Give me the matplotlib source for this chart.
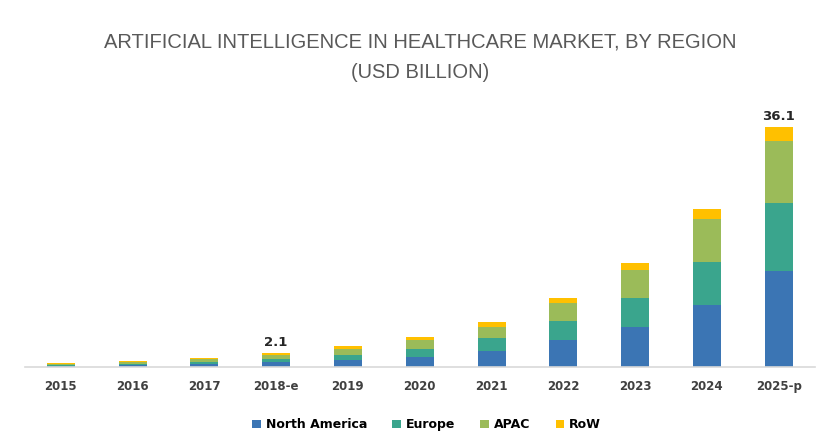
import numpy as np
import matplotlib.pyplot as plt

# Market size by region (USD billion)
years = ['2015', '2016', '2017', '2018-e', '2019', '2020', '2021', '2022', '2023', '2024', '2025-p']
north_america = [0.15, 0.25, 0.45, 0.70, 1.05, 1.55, 2.45, 4.0, 6.0, 9.4, 14.4]
europe = [0.15, 0.25, 0.35, 0.55, 0.80, 1.20, 1.90, 3.0, 4.4, 6.4, 10.2]
apac = [0.20, 0.25, 0.40, 0.55, 0.85, 1.30, 1.75, 2.6, 4.2, 6.4, 9.4]
row = [0.10, 0.15, 0.20, 0.30, 0.40, 0.40, 0.75, 0.75, 1.0, 1.5, 2.1]
labelled = {3: '2.1', 10: '36.1'}

series = [('North America', north_america, '#3b75b4'),
          ('Europe', europe, '#3aa58d'),
          ('APAC', apac, '#9bbb59'),
          ('RoW', row, '#ffc000')]

fig = plt.figure(figsize=(8.27, 4.45), dpi=100)
ax = fig.add_axes([0.030, 0.175, 0.955, 0.60])

x = np.arange(len(years))
bottom = np.zeros(len(years))
for name, vals, color in series:
    ax.bar(x, vals, width=0.39, bottom=bottom, color=color, label=name)
    bottom += np.array(vals)

for i, txt in labelled.items():
    ax.text(x[i], bottom[i] + 0.6, txt, ha='center', va='bottom',
            fontsize=9.5, fontweight='bold', color='#262626')

ax.set_xlim(-0.5, len(years) - 0.5)
ax.set_ylim(0, 40.1)
ax.set_xticks(x)
ax.set_xticklabels(years, fontsize=8.5, fontweight='bold', color='#404040')
ax.tick_params(axis='x', length=0, pad=9)
ax.set_yticks([])
for side in ['top', 'right', 'left']:
    ax.spines[side].set_visible(False)
ax.spines['bottom'].set_color('#d9d9d9')
ax.spines['bottom'].set_linewidth(1.2)

fig.text(0.508, 0.905, 'ARTIFICIAL INTELLIGENCE IN HEALTHCARE MARKET, BY REGION',
         ha='center', va='center', fontsize=14.5, color='#595959', family='Liberation Sans')
fig.text(0.508, 0.838, '(USD BILLION)', ha='center', va='center',
         fontsize=14.5, color='#595959', family='Liberation Sans')

fig.legend(loc='center', bbox_to_anchor=(0.516, 0.045), ncol=4, frameon=False,
           handlelength=0.7, handleheight=0.7, handletextpad=0.4,
           columnspacing=2.0, prop={'weight': 'bold', 'size': 9})

fig.savefig('out.png', dpi=100)
